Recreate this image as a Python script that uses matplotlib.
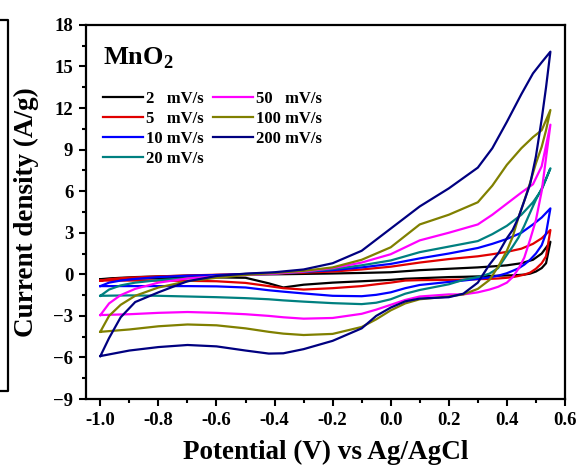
import numpy as np
import matplotlib
matplotlib.use("Agg")
import matplotlib.pyplot as plt
from matplotlib.lines import Line2D
from matplotlib.ticker import MultipleLocator

plt.rcParams['font.family'] = ['Liberation Serif', 'DejaVu Serif']
plt.rcParams['font.weight'] = 'bold'
plt.rcParams['mathtext.fontset'] = 'custom'
plt.rcParams['mathtext.rm'] = 'Liberation Serif:bold'
plt.rcParams['mathtext.bf'] = 'Liberation Serif:bold'

# potential grids for the anodic (forward) and cathodic (reverse) sweeps
fwd_v = [-1.0, -0.97, -0.93, -0.88, -0.8, -0.7, -0.6, -0.5, -0.4, -0.3, -0.2,
         -0.1, 0.0, 0.1, 0.2, 0.3, 0.35, 0.4, 0.45, 0.49, 0.52, 0.55]
rev_v = [0.55, 0.535, 0.52, 0.5, 0.48, 0.46, 0.44, 0.42, 0.4, 0.37, 0.34, 0.3,
         0.25, 0.2, 0.1, 0.05, 0.0, -0.05, -0.1, -0.2, -0.3, -0.37, -0.42, -0.5,
         -0.6, -0.7, -0.8, -0.9, -1.0]

labels = ["2   mV/s", "5   mV/s", "10 mV/s", "20 mV/s",
          "50   mV/s", "100 mV/s", "200 mV/s"]
colors = ["#000000", "#e00000", "#0000ff", "#008080",
          "#ff00ff", "#808000", "#000080"]

fwd_2 = [-0.35, -0.3, -0.25, -0.2, -0.15, -0.1, -0.05, -0.02, 0.0, 0.03, 0.06,
         0.1, 0.15, 0.3, 0.4, 0.5, 0.57, 0.65, 0.8, 1.05, 1.5, 2.35]
rev_2 = [2.35, 0.8, 0.45, 0.2, 0.05, -0.02, -0.05, -0.07, -0.08, -0.1, -0.12,
         -0.15, -0.18, -0.2, -0.28, -0.32, -0.4, -0.45, -0.5, -0.6, -0.75,
         -0.95, -0.65, -0.25, -0.22, -0.25, -0.28, -0.32, -0.35]

fwd_5 = [-0.45, -0.35, -0.28, -0.22, -0.15, -0.08, -0.03, 0.02, 0.06, 0.12, 0.2,
         0.35, 0.55, 0.85, 1.1, 1.3, 1.45, 1.62, 1.85, 2.2, 2.6, 3.2]
rev_5 = [3.2, 1.3, 0.8, 0.4, 0.12, -0.02, -0.12, -0.2, -0.25, -0.3, -0.33,
         -0.35, -0.38, -0.4, -0.42, -0.45, -0.6, -0.72, -0.85, -1.0, -1.1,
         -1.0, -0.85, -0.62, -0.5, -0.47, -0.45, -0.45, -0.45]

fwd_10 = [-0.85, -0.6, -0.45, -0.33, -0.2, -0.1, -0.05, 0.02, 0.1, 0.18, 0.3,
          0.5, 0.75, 1.15, 1.5, 1.9, 2.2, 2.55, 3.0, 3.6, 4.1, 4.76]
rev_10 = [4.76, 2.96, 2.1, 1.5, 1.05, 0.7, 0.43, 0.25, 0.08, -0.1, -0.22,
          -0.33, -0.45, -0.55, -0.77, -1.0, -1.3, -1.48, -1.58, -1.55, -1.38,
          -1.25, -1.15, -0.95, -0.87, -0.85, -0.85, -0.85, -0.85]

fwd_20 = [-1.55, -1.1, -0.8, -0.6, -0.42, -0.28, -0.15, -0.05, 0.05, 0.18, 0.38,
          0.65, 1.0, 1.6, 2.0, 2.4, 2.9, 3.5, 4.3, 5.2, 6.1, 7.65]
rev_20 = [7.65, 6.9, 6.2, 5.38, 4.45, 3.5, 2.65, 2.0, 1.4, 0.45, 0.05,
          -0.2, -0.4, -0.72, -1.13, -1.4, -1.8, -2.05, -2.15, -2.08, -1.97,
          -1.88, -1.8, -1.72, -1.65, -1.6, -1.55, -1.52, -1.55]

fwd_50 = [-2.94, -2.1, -1.5, -1.05, -0.6, -0.3, -0.15, -0.06, 0.05, 0.2, 0.45,
          0.85, 1.45, 2.45, 3.0, 3.6, 4.3, 5.1, 5.9, 6.5, 7.8, 10.8]
rev_50 = [10.8, 8.4, 6.0, 3.9, 2.5, 1.2, 0.4, -0.2, -0.6, -0.9, -1.1,
          -1.3, -1.45, -1.45, -1.6, -1.85, -2.2, -2.55, -2.85, -3.15, -3.2,
          -3.1, -3.0, -2.88, -2.78, -2.72, -2.78, -2.88, -2.94]

fwd_100 = [-4.14, -3.0, -2.2, -1.55, -0.95, -0.5, -0.25, -0.05, 0.1, 0.25, 0.5,
           1.05, 1.95, 3.6, 4.3, 5.2, 6.4, 7.9, 9.1, 9.9, 10.4, 11.86]
rev_100 = [11.86, 10.4, 9.2, 8.0, 6.6, 5.3, 4.1, 2.7, 1.7, 0.55, -0.41,
           -1.05, -1.45, -1.6, -1.8, -2.1, -2.6, -3.25, -3.8, -4.3, -4.38,
           -4.28, -4.15, -3.9, -3.68, -3.62, -3.75, -3.98, -4.15]

fwd_200 = [-5.9, -4.6, -3.1, -2.0, -1.3, -0.5, -0.12, 0.05, 0.15, 0.35, 0.8,
           1.7, 3.3, 4.9, 6.2, 7.7, 9.1, 11.0, 13.0, 14.5, 15.3, 16.07]
rev_200 = [16.07, 13.5, 11.2, 8.5, 6.5, 5.3, 4.1, 3.2, 2.6, 1.5, 0.7,
           -0.6, -1.4, -1.65, -1.75, -1.95, -2.4, -3.0, -3.9, -4.8, -5.4,
           -5.7, -5.72, -5.5, -5.2, -5.1, -5.25, -5.5, -5.9]

forward = [fwd_2, fwd_5, fwd_10, fwd_20, fwd_50, fwd_100, fwd_200]
reverse = [rev_2, rev_5, rev_10, rev_20, rev_50, rev_100, rev_200]

fig = plt.figure(figsize=(5.8, 4.7), dpi=100)
ax = fig.add_axes([0.148, 0.151, 0.826, 0.796])

for lab, c, f, r in zip(labels, colors, forward, reverse):
    ax.plot(fwd_v + rev_v, f + r, color=c, lw=1.6, label=lab)

ax.set_xlim(-1.05, 0.6)
ax.set_ylim(-9, 18)
ax.xaxis.set_major_locator(MultipleLocator(0.2))
ax.xaxis.set_minor_locator(MultipleLocator(0.1))
ax.yaxis.set_major_locator(MultipleLocator(3))
ax.yaxis.set_minor_locator(MultipleLocator(1.5))
ax.xaxis.set_major_formatter(plt.FuncFormatter(lambda v, p: f"{v:.1f}"))
ax.tick_params(which='both', direction='out', width=1.5, labelsize=13.5,
               top=False, right=False)
ax.tick_params(which='major', length=5, pad=4)
ax.tick_params(which='minor', length=3)
for s in ax.spines.values():
    s.set_linewidth(1.6)
for t in ax.get_xticklabels() + ax.get_yticklabels():
    t.set_fontweight('bold')

ax.set_xlabel("Potential (V) vs Ag/AgCl", fontsize=19.5, fontweight='bold',
              labelpad=8)
ax.set_ylabel("Current density (A/g)", fontsize=19.5, fontweight='bold',
              labelpad=10)

ax.text(0.035, 0.893, "MnO$_2$", transform=ax.transAxes, fontsize=19,
        fontweight='bold', va='baseline')

ax.legend(ncol=2, loc='upper left', bbox_to_anchor=(0.012, 0.855), frameon=False,
          prop={'weight': 'bold', 'size': 12}, handlelength=2.4,
          handletextpad=0.15, columnspacing=0.6, labelspacing=0.25,
          borderaxespad=0.3)

# edge of the neighbouring panel visible at the left border
fig.add_artist(Line2D([0.0, 0.014, 0.014, 0.0],
                      [1 - 20 / 470, 1 - 20 / 470, 1 - 391 / 470, 1 - 391 / 470],
                      color='black', lw=1.6, transform=fig.transFigure))

fig.savefig("out.png", dpi=100)
